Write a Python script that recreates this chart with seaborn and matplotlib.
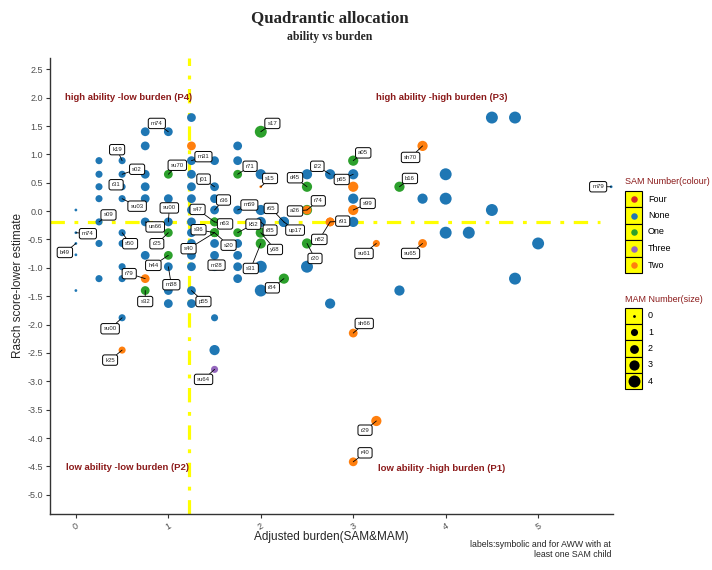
import matplotlib
matplotlib.use("Agg")
import matplotlib.pyplot as plt
import pandas as pd
import seaborn as sns
from matplotlib.patches import Rectangle

sns.set_theme(style="white")
plt.rcParams["font.family"] = ["Liberation Sans", "DejaVu Sans"]

# ---- data: one entry per anganwadi worker (AWW) ----
burden = [
    0, 0, 0, 0, 0,
    0.25, 0.25, 0.25, 0.25, 0.25, 0.25, 0.25,
    0.5, 0.5, 0.5, 0.5, 0.5, 0.5, 0.5, 0.5, 0.5, 0.5,
    0.75, 0.75, 0.75, 0.75, 0.75, 0.75, 0.75, 0.75, 0.75,
    1.0, 1.0, 1.0, 1.0, 1.0, 1.0, 1.0, 1.0, 1.0,
    1.25, 1.25, 1.25, 1.25, 1.25, 1.25, 1.25, 1.25, 1.25, 1.25, 1.25, 1.25, 1.25, 1.25,
    1.5, 1.5, 1.5, 1.5, 1.5, 1.5, 1.5, 1.5, 1.5, 1.5, 1.5, 1.5, 1.5, 1.5, 1.5,
    1.75, 1.75, 1.75, 1.75, 1.75, 1.75, 1.75, 1.75, 1.75,
    2.0, 2.0, 2.0, 2.0, 2.0, 2.0, 2.0, 2.0, 2.0,
    2.25, 2.25, 2.25,
    2.5, 2.5, 2.5, 2.5, 2.5, 2.5,
    2.75, 2.75, 2.75, 2.75,
    3.0, 3.0, 3.0, 3.0, 3.0, 3.0, 3.0, 3.0,
    3.25, 3.25,
    3.5, 3.5,
    3.75, 3.75, 3.75,
    4.0, 4.0, 4.0,
    4.25,
    4.5, 4.5,
    4.75, 4.75,
    5.0,
    5.79,
]
ability = [
    0.02, -0.38, -0.57, -0.77, -1.40,
    0.89, 0.65, 0.43, 0.22, -0.19, -0.57, -1.19,
    0.89, 0.65, 0.43, 0.22, -0.38, -0.57, -0.98, -1.19, -1.88, -2.45,
    1.40, 1.15, 0.65, 0.43, 0.22, -0.19, -0.78, -1.19, -1.40,
    1.40, 0.65, 0.22, -0.19, -0.38, -0.78, -0.98, -1.40, -1.63,
    1.65, 1.15, 0.89, 0.65, 0.43, 0.22, 0.02, -0.19, -0.38, -0.57, -0.78, -0.98, -1.40, -1.63,
    0.89, 0.43, 0.22, 0.02, -0.19, -0.19, -0.38, -0.38, -0.38, -0.57, -0.78, -0.98, -1.88, -2.45, -2.79,
    1.15, 0.89, 0.65, 0.02, -0.38, -0.57, -0.78, -0.98, -1.19,
    1.40, 0.65, 0.43, 0.02, -0.19, -0.38, -0.57, -0.98, -1.40,
    -0.19, -0.19, -1.19,
    0.65, 0.43, 0.02, 0.02, -0.57, -0.98,
    0.65, -0.19, -0.19, -1.63,
    0.89, 0.65, 0.43, 0.22, 0.02, -0.19, -2.15, -4.42,
    -0.57, -3.70,
    0.43, -1.40,
    1.15, 0.22, -0.57,
    0.65, 0.22, -0.38,
    -0.38,
    1.65, 0.02,
    1.65, -1.19,
    -0.57,
    0.43,
]
sam = [
    "None", "None", "None", "None", "None",
    "None", "None", "None", "None", "None", "None", "None",
    "None", "None", "None", "None", "None", "None", "None", "None", "None", "Two",
    "None", "None", "None", "None", "None", "None", "None", "Two", "One",
    "None", "One", "None", "None", "One", "One", "None", "None", "None",
    "None", "Two", "None", "None", "None", "None", "None", "None", "None", "None", "None", "None", "None", "None",
    "None", "None", "None", "None", "One", "One", "One", "One", "One", "None", "None", "None", "None", "None", "Three",
    "None", "None", "One", "None", "One", "None", "None", "None", "None",
    "One", "None", "Two", "None", "None", "One", "One", "None", "None",
    "None", "None", "One",
    "None", "One", "One", "Two", "One", "None",
    "None", "Two", "Two", "None",
    "One", "None", "Two", "None", "Two", "None", "Two", "Two",
    "Two", "Two",
    "One", "None",
    "Two", "None", "Two",
    "None", "None", "None",
    "None",
    "None", "None",
    "None", "None",
    "None",
    "None",
]
mam = [
    0, 0, 0, 0, 0,
    1, 1, 1, 1, 1, 1, 1,
    1, 1, 1, 1, 1, 1, 1, 1, 1, 1,
    2, 2, 2, 2, 2, 2, 2, 2, 2,
    2, 2, 2, 2, 2, 2, 2, 2, 2,
    2, 2, 2, 2, 2, 2, 2, 2, 2, 2, 2, 2, 2, 2,
    2, 2, 2, 2, 2, 2, 2, 2, 2, 2, 2, 2, 1, 3, 1,
    2, 2, 2, 2, 2, 2, 2, 2, 2,
    4, 3, 0, 3, 3, 3, 3, 4, 4,
    3, 3, 3,
    3, 3, 3, 2, 3, 4,
    3, 2, 2, 3,
    3, 3, 3, 3, 3, 3, 2, 2,
    1, 3,
    3, 3,
    3, 3, 2,
    4, 4, 4,
    4,
    4, 4,
    4, 4,
    4,
    0,
]
tag = [
    "", "m74", "b49", "", "",
    "", "", "", "", "s09", "", "",
    "k19", "s02", "r31", "su03", "s50", "", "", "", "su00", "k25",
    "", "", "", "", "", "un66", "", "r79", "s32",
    "m74", "su70", "", "su00", "r25", "h44", "m88", "", "",
    "", "", "m31", "", "", "", "", "", "", "", "", "", "p55", "",
    "", "j01", "", "r36", "s47", "n63", "s36", "s40", "s20", "", "", "m28", "", "", "su64",
    "", "", "r71", "m69", "k52", "", "", "", "",
    "s17", "", "s15", "", "r85", "y68", "s31", "", "",
    "r65", "up17", "r84",
    "", "d45", "a26", "r74", "r20", "",
    "i22", "r91", "n82", "",
    "a05", "p65", "", "", "s99", "", "sh66", "r40",
    "su61", "r29",
    "b16", "",
    "sh70", "", "su65",
    "", "", "",
    "",
    "", "",
    "", "",
    "",
    "m79",
]

sam_levels = ["Four", "None", "One", "Three", "Two"]
mam_levels = [0, 1, 2, 3, 4]
burden_cut = 1.22
ability_cut = -0.19

# ---- styling ----
palette = {"Four": "#d62728", "None": "#1f77b4", "One": "#2ca02c",
           "Three": "#9467bd", "Two": "#ff7f0e"}
size_map = {0: 4, 1: 26, 2: 40, 3: 54, 4: 74}
dark_red = "#8b1a1a"
grey_txt = "#4d4d4d"

# label box offsets (pixels, y up) relative to the point they describe
label_offset = {
    ("m74", 0): (12, -1), ("b49", 0): (-11, -9), ("s09", 0.25): (9.5, 7),
    ("k19", 0.5): (-5, 11), ("s02", 0.5): (15, 5), ("r31", 0.5): (-6, 2),
    ("su03", 0.5): (15, -7.5), ("s50", 0.5): (8, -11), ("su00", 0.5): (-12, -11),
    ("k25", 0.5): (-12, -10), ("un66", 0.75): (10, -5), ("r79", 0.75): (-16, 5),
    ("s32", 0.75): (0, -11), ("m74", 1.0): (-11.5, 8.3), ("su70", 1.0): (9, 9),
    ("su00", 1.0): (1, 14), ("r25", 1.0): (-11.5, -11), ("h44", 1.0): (-15, -10),
    ("m88", 1.0): (3, -18), ("m31", 1.25): (12, 4), ("p55", 1.25): (12, -11),
    ("j01", 1.5): (-11, 7.6), ("r36", 1.5): (9, 10), ("s47", 1.5): (-17, 12.5),
    ("n63", 1.5): (10.5, -2), ("s36", 1.5): (-16, 3), ("s40", 1.5): (-26, -16),
    ("s20", 1.5): (14, -12.5), ("m28", 1.5): (2, 1.6), ("su64", 1.5): (-11, -10),
    ("r71", 1.75): (12.4, 8), ("m69", 1.75): (11.7, 5), ("k52", 1.75): (15.7, 8.5),
    ("s17", 2.0): (11.6, 8.3), ("s15", 2.0): (9.3, 8.3), ("r85", 2.0): (9.3, -8.2),
    ("y68", 2.0): (14.3, -16.8), ("s31", 2.0): (-10, -25), ("r65", 2.25): (-12.8, 13.5),
    ("up17", 2.25): (11.2, -8.2), ("r84", 2.25): (-11.5, -9.2), ("d45", 2.5): (-12, 9),
    ("a26", 2.5): (-12, -1), ("r74", 2.5): (11.3, 9.2), ("r20", 2.5): (8, -15),
    ("i22", 2.75): (-12.8, 8), ("r91", 2.75): (12.6, 0.8), ("n82", 2.75): (-10.8, -17.5),
    ("a05", 3.0): (10, 7.8), ("p65", 3.0): (-11.5, -5.2), ("s99", 3.0): (14.5, 6.6),
    ("sh66", 3.0): (11, 9.6), ("r40", 3.0): (11.8, 9), ("su61", 3.25): (-12.3, -10),
    ("r29", 3.25): (-11.3, -9.2), ("b16", 3.5): (10.5, 8.3), ("sh70", 3.75): (-12, -11.5),
    ("su65", 3.75): (-12, -10), ("m79", 5.79): (-13, 0),
}

df = pd.DataFrame({"burden": burden, "ability": ability, "sam": sam,
                   "mam": mam, "tag": tag})

fig = plt.figure(figsize=(7.12, 5.70), dpi=100)
ax = fig.add_axes([50 / 712, 1 - 514 / 570, 563 / 712, 456 / 570])

# quadrant dividers
yellow = "#ffff00"
ax.axvline(burden_cut, color=yellow, lw=2.3, dashes=(4.5, 3, 1.2, 3), zorder=1)
ax.axhline(ability_cut, xmax=0.977, color=yellow, lw=2.3, dashes=(4.5, 3, 1.2, 3), zorder=1)

sns.scatterplot(data=df, x="burden", y="ability", hue="sam", size="mam",
                palette=palette, sizes=size_map, hue_order=sam_levels,
                size_order=mam_levels, linewidth=0, alpha=1, legend=False,
                ax=ax, zorder=2)

# labelled workers
for i, row in df[df["tag"] != ""].iterrows():
    dx, dy = label_offset[(row["tag"], row["burden"])]
    ax.annotate(row["tag"], xy=(row["burden"], row["ability"]),
                xytext=(dx, dy), textcoords="offset pixels",
                ha="center", va="center", fontsize=4.3, zorder=6,
                bbox=dict(boxstyle="round,pad=0.45,rounding_size=0.35",
                          fc="white", ec="black", lw=0.7),
                arrowprops=dict(arrowstyle="-", color="black", lw=0.6,
                                shrinkA=0, shrinkB=0))

# quadrant captions
qkw = dict(color=dark_red, fontsize=6.8, fontweight="bold", ha="left", va="center")
ax.text(-0.12, 2.01, "high ability -low burden (P4)", **qkw)
ax.text(3.25, 2.01, "high ability -high burden (P3)", **qkw)
ax.text(-0.11, -4.52, "low ability -low burden (P2)", **qkw)
ax.text(3.27, -4.53, "low ability -high burden (P1)", **qkw)

ax.set_xlim(-0.28, 5.81)
ax.set_ylim(-5.34, 2.70)
ax.set_xticks([0, 1, 2, 3, 4, 5])
ax.set_yticks([2.5, 2.0, 1.5, 1.0, 0.5, 0.0, -0.5, -1.0, -1.5, -2.0,
               -2.5, -3.0, -3.5, -4.0, -4.5, -5.0])
ax.set_yticklabels([f"{v:.1f}" for v in ax.get_yticks()])
ax.tick_params(axis="both", length=3, width=0.8, color="#333333",
               labelsize=6.5, labelcolor=grey_txt, pad=2, bottom=True, left=True)
for lab in ax.get_xticklabels():
    lab.set_rotation(30)
for s in ["top", "right"]:
    ax.spines[s].set_visible(False)
for s in ["left", "bottom"]:
    ax.spines[s].set_color("#333333")
    ax.spines[s].set_linewidth(1.0)
ax.set_xlabel("Adjusted burden(SAM&MAM)", fontsize=8.5, labelpad=0)
ax.set_ylabel("Rasch score-lower estimate", fontsize=8.5)
ax.yaxis.set_label_coords(-0.046, 0.5)

# titles
fig.text(330 / 712, 1 - 18 / 570, "Quadrantic allocation", ha="center", va="center",
         fontsize=12.2, fontweight="bold", family="Liberation Serif")
fig.text(330 / 712, 1 - 37 / 570, "ability vs burden", ha="center", va="center",
         fontsize=8.5, fontweight="bold", family="Liberation Serif")
fig.text(611 / 712, 1 - 540 / 570, "labels:symbolic and for AWW with at\nleast one SAM child",
         ha="right", va="top", fontsize=6.3, linespacing=1.1)

# legends drawn in pixel space on an overlay
lg = fig.add_axes([0, 0, 1, 1], zorder=10)
lg.set_xlim(0, 712)
lg.set_ylim(570, 0)
lg.axis("off")

def key_block(title, title_y, first_y, step, entries):
    lg.text(625, title_y, title, color=dark_red, fontsize=6.5, va="center", ha="left")
    for k, (txt, col, sz) in enumerate(entries):
        cy = first_y + k * step
        lg.add_patch(Rectangle((625, cy - step / 2), 17, step, fc=yellow,
                               ec="black", lw=0.8))
        lg.scatter([633.5], [cy], s=sz, color=col, linewidth=0)
        lg.text(648, cy, txt, fontsize=6.5, va="center", ha="left", color="black")

key_block("SAM Number(colour)", 181, 199, 16.5,
          [(lvl, palette[lvl], 22) for lvl in sam_levels])
key_block("MAM Number(size)", 299, 316, 16.3,
          [(str(m), "black", size_map[m]) for m in mam_levels])

fig.savefig("out.png", dpi=100, facecolor="white")
